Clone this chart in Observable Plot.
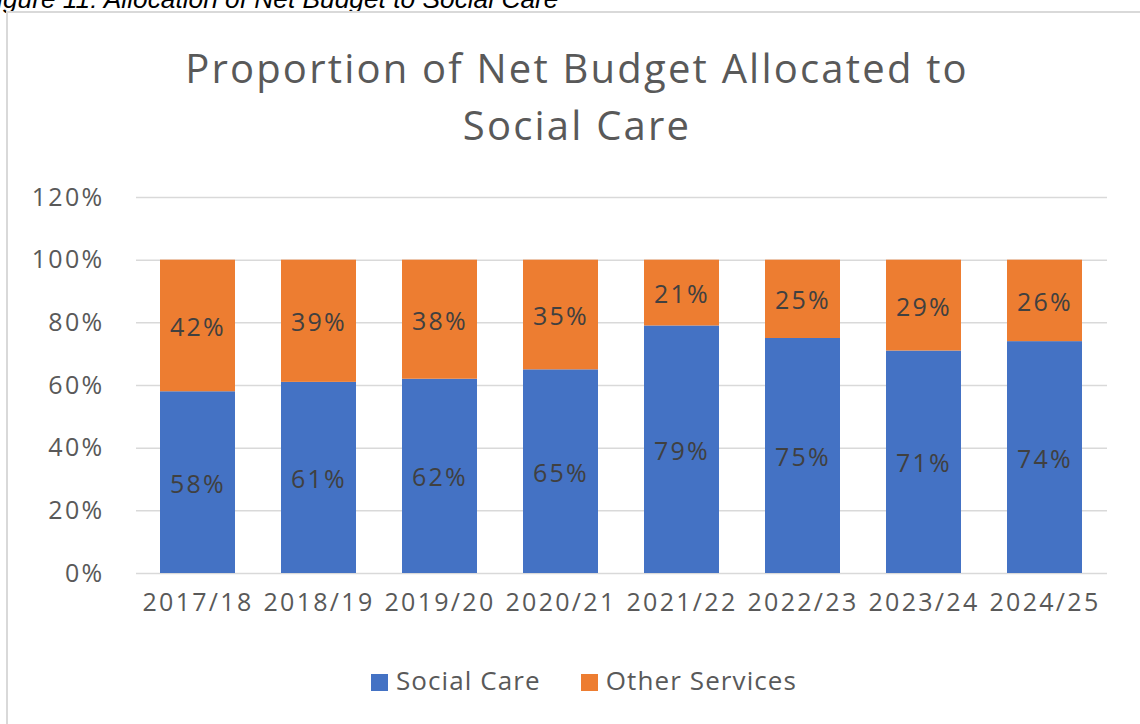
<!DOCTYPE html>
<html>
<head>
<meta charset="utf-8">
<script src="https://cdn.jsdelivr.net/npm/d3@7"></script>
<script src="https://cdn.jsdelivr.net/npm/@observablehq/plot@0.6"></script>
<style>
  html, body { margin: 0; padding: 0; background: #fff; width: 1140px; height: 724px; overflow: hidden; }
  body { position: relative; font-family: "Open Sans", sans-serif; }
  #caption { position: absolute; left: -19px; top: -16px; font-family: "Liberation Sans", Arial, sans-serif; font-style: italic; font-size: 26.3px; color: #000; white-space: nowrap; }
  #frame { position: absolute; left: 6px; top: 11px; width: 1200px; height: 800px; border: 2px solid #d9d9d9; box-sizing: border-box; }
  #title { position: absolute; left: 0; width: 1154px; top: 39px; text-align: center; font-size: 40px; line-height: 57px; color: #595959; letter-spacing: 2.2px; }
  #chart { position: absolute; left: 0; top: 180px; }
  #legend { position: absolute; left: 0; width: 1168px; top: 662px; text-align: center; font-size: 26px; color: #595959; letter-spacing: 1.1px; white-space: nowrap; }
  #legend span.item { display: inline-block; margin: 0 20px; }
  #legend span.sw { display: inline-block; width: 17px; height: 17px; margin-right: 8px; vertical-align: -1px; }
</style>
</head>
<body>
<div id="caption">Figure 11: Allocation of Net Budget to Social Care</div>
<div id="frame"></div>
<div id="title">Proportion of Net Budget Allocated to<br>Social Care</div>
<div id="chart"></div>
<div id="legend"></div>
<script>
const years = ["2017/18","2018/19","2019/20","2020/21","2021/22","2022/23","2023/24","2024/25"];
const seriesNames = ["Social Care", "Other Services"];
const socialCare = [58, 61, 62, 65, 79, 75, 71, 74];
const otherServices = [42, 39, 38, 35, 21, 25, 29, 26];
const colors = ["#4472C4", "#ED7D31"];
const yTicks = [0, 20, 40, 60, 80, 100, 120];

const rows = [];
years.forEach((yr, i) => {
  rows.push({year: yr, series: seriesNames[0], value: socialCare[i]});
  rows.push({year: yr, series: seriesNames[1], value: otherServices[i]});
});

const chart = Plot.plot({
  width: 1140,
  height: 460,
  marginLeft: 136,
  marginRight: 33,
  marginTop: 17,
  marginBottom: 67,
  style: {fontFamily: "Open Sans, sans-serif", background: "transparent"},
  x: {domain: years, paddingInner: 0.38, paddingOuter: 0.17, label: null},
  y: {domain: [0, 120], label: null},
  color: {domain: seriesNames, range: colors},
  marks: [
    Plot.ruleY(yTicks, {stroke: "#d9d9d9", strokeWidth: 1.5}),
    Plot.barY(rows, Plot.stackY({x: "year", y: "value", fill: "series", order: seriesNames})),
    Plot.text(rows, Plot.stackY({x: "year", y: "value", z: "series", order: seriesNames, text: d => d.value + "%", fill: "#404040", fontSize: 25, dy: 2})),
    Plot.axisX({tickSize: 0, tickPadding: 20, fontSize: 25, fill: "#595959"}),
    Plot.axisY({ticks: yTicks, tickSize: 0, tickPadding: 32, fontSize: 25, fill: "#595959", tickFormat: d => d + "%"})
  ]
});
d3.select(chart).selectAll("text").style("letter-spacing", "2.3px");
document.getElementById("chart").appendChild(chart);

const legend = document.getElementById("legend");
seriesNames.forEach((s, i) => {
  const item = document.createElement("span");
  item.className = "item";
  const sw = document.createElement("span");
  sw.className = "sw";
  sw.style.background = colors[i];
  item.appendChild(sw);
  item.appendChild(document.createTextNode(s));
  legend.appendChild(item);
});
</script>
</body>
</html>
